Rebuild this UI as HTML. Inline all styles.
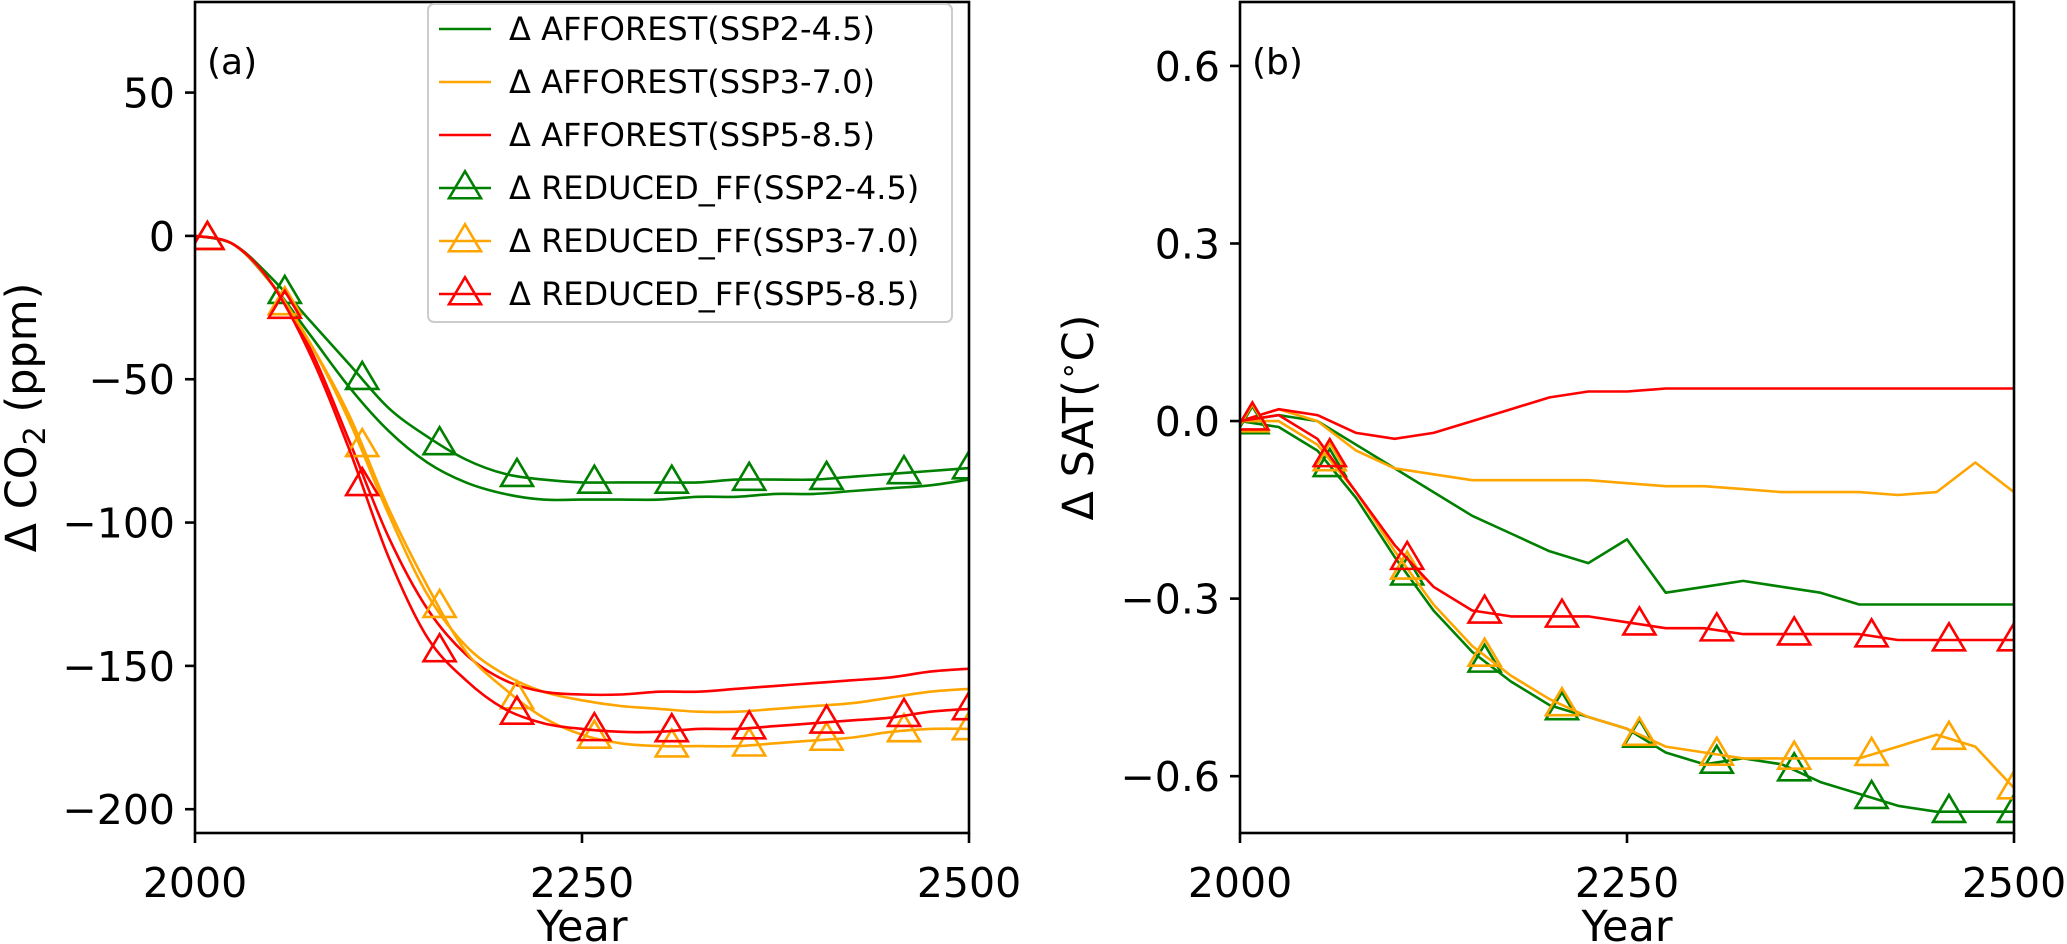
<!DOCTYPE html>
<html><head><meta charset="utf-8">
<style>
html,body{margin:0;padding:0;background:#fff;}
svg{display:block;font-family:"DejaVu Sans","Liberation Sans",sans-serif;}
</style></head>
<body>
<svg id="fig" width="2067" height="944" viewBox="0 0 2067 944" xmlns="http://www.w3.org/2000/svg"></svg>
<script>
const years = [2000,2025,2050,2075,2100,2125,2150,2175,2200,2225,2250,2275,2300,2325,2350,2375,2400,2425,2450,2475,2500];
const markerYears = [2008,2058,2108,2158,2208,2258,2308,2358,2408,2458,2500];
// Panel (a) ΔCO2 (ppm)
const co2AffSsp245 = [0,-3,-17,-35,-53,-68,-79,-86,-90,-92,-92,-92,-92,-91,-91,-90,-90,-89,-88,-87,-85];
const co2AffSsp370 = [0,-3,-17,-38,-65,-97,-125,-143,-153,-159,-162,-164,-165,-166,-166,-165,-164,-163,-161,-159,-158];
const co2AffSsp585 = [0,-3,-17,-40,-72,-105,-130,-146,-155,-159,-160,-160,-159,-159,-158,-157,-156,-155,-154,-152,-151];
const co2RedSsp245 = [0,-3,-15,-30,-45,-60,-70,-78,-83,-85,-86,-86,-86,-86,-85,-85,-85,-84,-83,-82,-81];
const co2RedSsp370 = [0,-3,-17,-38,-63,-95,-122,-145,-158,-168,-174,-177,-178,-178,-178,-177,-176,-175,-173,-172,-172];
const co2RedSsp585 = [0,-3,-17,-42,-75,-112,-140,-155,-165,-170,-172,-173,-173,-172,-172,-171,-170,-169,-168,-166,-165];
// Panel (b) ΔSAT (°C)
const satAffSsp245 = [0,0.01,0.0,-0.04,-0.08,-0.12,-0.16,-0.19,-0.22,-0.24,-0.20,-0.29,-0.28,-0.27,-0.28,-0.29,-0.31,-0.31,-0.31,-0.31,-0.31];
const satAffSsp370 = [0,0.02,0.0,-0.05,-0.08,-0.09,-0.10,-0.10,-0.10,-0.10,-0.105,-0.11,-0.11,-0.115,-0.12,-0.12,-0.12,-0.125,-0.12,-0.07,-0.12];
const satAffSsp585 = [0,0.02,0.01,-0.02,-0.03,-0.02,0.0,0.02,0.04,0.05,0.05,0.055,0.055,0.055,0.055,0.055,0.055,0.055,0.055,0.055,0.055];
const satRedSsp245 = [0,-0.01,-0.05,-0.13,-0.23,-0.32,-0.39,-0.44,-0.48,-0.50,-0.52,-0.56,-0.58,-0.57,-0.58,-0.61,-0.63,-0.65,-0.66,-0.66,-0.66];
const satRedSsp370 = [0,0.0,-0.04,-0.12,-0.22,-0.31,-0.38,-0.43,-0.47,-0.50,-0.52,-0.55,-0.56,-0.57,-0.57,-0.57,-0.57,-0.55,-0.53,-0.55,-0.62];
const satRedSsp585 = [0,0.01,-0.03,-0.12,-0.21,-0.28,-0.32,-0.33,-0.33,-0.33,-0.34,-0.35,-0.35,-0.36,-0.36,-0.36,-0.36,-0.37,-0.37,-0.37,-0.37];
const xTicks = [2000,2250,2500];
const co2Ticks = [50,0,-50,-100,-150,-200];
const co2TickLabels = ["50","0","\u221250","\u2212100","\u2212150","\u2212200"];
const satTicks = [0.6,0.3,0.0,-0.3,-0.6];
const satTickLabels = ["0.6","0.3","0.0","\u22120.3","\u22120.6"];
const legendLabels = ["\u0394 AFFOREST(SSP2-4.5)","\u0394 AFFOREST(SSP3-7.0)","\u0394 AFFOREST(SSP5-8.5)","\u0394 REDUCED_FF(SSP2-4.5)","\u0394 REDUCED_FF(SSP3-7.0)","\u0394 REDUCED_FF(SSP5-8.5)"];

const NS="http://www.w3.org/2000/svg";
const svg=document.getElementById('fig');
const GREEN="#008000",ORANGE="#FFA500",RED="#FF0000";
function mk(tag,attrs,parent){const e=document.createElementNS(NS,tag);for(const k in attrs)e.setAttribute(k,attrs[k]);(parent||svg).appendChild(e);return e;}
function interp(arr,yr){for(let i=0;i<years.length-1;i++){if(yr>=years[i]&&yr<=years[i+1]){const t=(yr-years[i])/(years[i+1]-years[i]);return arr[i]+t*(arr[i+1]-arr[i]);}}return arr[arr.length-1];}
function tri(g,cx,cy,color){const h=27,w=32;return mk('polygon',{points:`${cx},${cy-h*0.62} ${cx-w/2},${cy+h*0.38} ${cx+w/2},${cy+h*0.38}`,fill:'none',stroke:color,'stroke-width':2.6},g);}
function smoothPath(P){let d=`M${P[0][0].toFixed(1)},${P[0][1].toFixed(1)}`;
  for(let i=0;i<P.length-1;i++){const p0=P[Math.max(0,i-1)],p1=P[i],p2=P[i+1],p3=P[Math.min(P.length-1,i+2)];
    const c1=[p1[0]+(p2[0]-p0[0])/6,p1[1]+(p2[1]-p0[1])/6],c2=[p2[0]-(p3[0]-p1[0])/6,p2[1]-(p3[1]-p1[1])/6];
    d+=` C${c1[0].toFixed(1)},${c1[1].toFixed(1)} ${c2[0].toFixed(1)},${c2[1].toFixed(1)} ${p2[0].toFixed(1)},${p2[1].toFixed(1)}`;}
  return d;}

function panel(opt){
  const {x0,x1,y0,y1,vmin,vmax,name}=opt;
  const xs=v=>x0+(v-2000)/500*(x1-x0);
  const ys=v=>y1-(v-vmin)/(vmax-vmin)*(y1-y0);
  const g=mk('g',{});
  
  
  const clipId=name+'-clip';
  const cp=mk('clipPath',{id:clipId},g);mk('rect',{x:x0,y:y0,width:x1-x0,height:y1-y0},cp);
  const plot=mk('g',{'clip-path':`url(#${clipId})`},g);
  opt.series.forEach(s=>{
    const P=years.map((yr,i)=>[xs(yr),ys(s.data[i])]);
    let pl;
    if(opt.smooth){pl=mk('path',{d:smoothPath(P),fill:'none',stroke:s.color,'stroke-width':2.6},plot);}
    else{pl=mk('polyline',{points:P.map(p=>p[0].toFixed(1)+','+p[1].toFixed(1)).join(' '),fill:'none',stroke:s.color,'stroke-width':2.6,'stroke-linejoin':'round'},plot);}
    
    
    if(s.marker){markerYears.forEach(yr=>{const t=tri(plot,xs(yr),ys(interp(s.data,yr)),s.color);
      
      });}
  });
  const fr=mk('rect',{x:x0,y:y0,width:x1-x0,height:y1-y0,fill:'none',stroke:'#000','stroke-width':2.6},g);
  
  
  xTicks.forEach(t=>{const X=xs(t);mk('line',{x1:X,y1:y1,x2:X,y2:y1+10,stroke:'#000','stroke-width':2.6},g);
    const tx=mk('text',{x:X,y:y1+64,'text-anchor':'middle','font-size':41},g);tx.textContent=t;
    
    });
  opt.yTicks.forEach((t,i)=>{const Y=ys(t);mk('line',{x1:x0,y1:Y,x2:x0-10,y2:Y,stroke:'#000','stroke-width':2.6},g);
    const tx=mk('text',{x:x0-20,y:Y+15,'text-anchor':'end','font-size':41},g);tx.textContent=opt.yTickLabels[i];
    
    });
  const xl=mk('text',{x:(x0+x1)/2,y:y1+108,'text-anchor':'middle','font-size':43},g);xl.textContent='Year';
  
  
  const yl=mk('text',{x:0,y:0,'text-anchor':'middle','font-size':43,transform:`translate(${opt.ylx},${(y0+y1)/2}) rotate(-90)`},g);
  yl.innerHTML=opt.ylabel;
  
  
  const pl=mk('text',{x:x0+12,y:y0+72,'font-size':36},g);pl.textContent=opt.plabel;
  
  
  return g;
}
panel({name:'panel-a',x0:195,x1:969,y0:2,y1:833,vmin:-208.3,vmax:81.6,yTicks:co2Ticks,yTickLabels:co2TickLabels,ylx:36,smooth:true,
  ylabel:'\u0394 CO<tspan font-size="30" dy="9">2</tspan><tspan dy="-9"> (ppm)</tspan>',plabel:'(a)',
  series:[{data:co2AffSsp245,color:GREEN,name:'afforest-ssp245-line'},{data:co2AffSsp370,color:ORANGE,name:'afforest-ssp370-line'},{data:co2AffSsp585,color:RED,name:'afforest-ssp585-line'},
  {data:co2RedSsp245,color:GREEN,marker:1,name:'reduced-ff-ssp245-line'},{data:co2RedSsp370,color:ORANGE,marker:1,name:'reduced-ff-ssp370-line'},{data:co2RedSsp585,color:RED,marker:1,name:'reduced-ff-ssp585-line'}]});
panel({name:'panel-b',x0:1240,x1:2014,y0:2,y1:833,vmin:-0.696,vmax:0.708,yTicks:satTicks,yTickLabels:satTickLabels,ylx:1093,
  ylabel:'\u0394 SAT(<tspan font-size="30" dy="-15">\u2218</tspan><tspan dy="15">C)</tspan>',plabel:'(b)',
  series:[{data:satAffSsp245,color:GREEN,name:'sat-afforest-ssp245-line'},{data:satAffSsp370,color:ORANGE,name:'sat-afforest-ssp370-line'},{data:satAffSsp585,color:RED,name:'sat-afforest-ssp585-line'},
  {data:satRedSsp245,color:GREEN,marker:1,name:'sat-reduced-ff-ssp245-line'},{data:satRedSsp370,color:ORANGE,marker:1,name:'sat-reduced-ff-ssp370-line'},{data:satRedSsp585,color:RED,marker:1,name:'sat-reduced-ff-ssp585-line'}]});
const lg=mk('g',{});


mk('rect',{x:428,y:4,width:524,height:318,rx:6,fill:'#fff','fill-opacity':0.85,stroke:'#ccc','stroke-width':2},lg);
const legColors=[GREEN,ORANGE,RED,GREEN,ORANGE,RED];
legendLabels.forEach((lab,i)=>{
  const y=29+i*53;
  const e=mk('g',{},lg);
  
  
  mk('line',{x1:439,y1:y,x2:491,y2:y,stroke:legColors[i],'stroke-width':2.6},e);
  if(i>=3) tri(e,465,y,legColors[i]);
  const t=mk('text',{x:509,y:y+11,'font-size':32},e);t.textContent=lab;
});
</script>
</body></html>
